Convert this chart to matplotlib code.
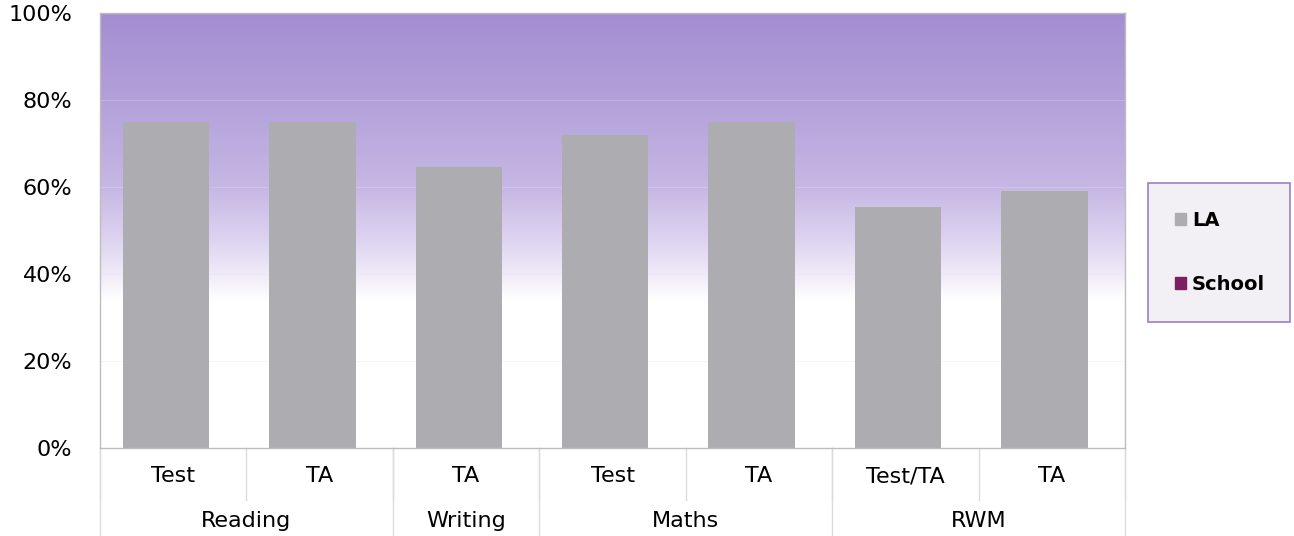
import numpy as np
import matplotlib
matplotlib.use('Agg')
import matplotlib.pyplot as plt
from matplotlib.colors import LinearSegmentedColormap
from matplotlib.patches import Rectangle, Patch
import matplotlib.transforms as mtransforms

# Data
groups = ['Reading', 'Writing', 'Maths', 'RWM']
group_sizes = [2, 1, 2, 2]
measures = ['Test', 'TA', 'TA', 'Test', 'TA', 'Test/TA', 'TA']
la = [75, 75, 64.5, 72, 75, 55.5, 59]
school = [0, 0, 0, 0, 0, 0, 0]
yticks = [0, 20, 40, 60, 80, 100]

fig = plt.figure(figsize=(12.94, 5.36), dpi=100)
ax = fig.add_axes([0.0773, 0.1642, 0.8694 - 0.0773, 0.9757 - 0.1642])

# Background gradient (purple at top fading to white)
bg = LinearSegmentedColormap.from_list('bg', [
    (0.0, '#ffffff'), (0.34, '#ffffff'), (0.40, '#efeaf8'),
    (0.48, '#ddd3f0'), (0.6, '#c6b7e4'), (0.8, '#b3a1da'), (1.0, '#a48dd2')])
grad = np.linspace(0, 1, 256).reshape(-1, 1)
ax.imshow(grad, cmap=bg, aspect='auto', extent=[0, 1, 0, 1],
          transform=ax.transAxes, origin='lower', zorder=0)

x = np.arange(len(measures))
width = 0.59
ax.bar(x - 0.05, la, width, color='#adacb0', zorder=2, label='LA')
ax.bar(x + 0.05, school, width, color='#7b1f60', zorder=2, label='School')

ax.set_xlim(-0.5, len(measures) - 0.5)
ax.set_ylim(0, 100)
ax.set_yticks(yticks)
ax.set_yticklabels([f'{v}%' for v in yticks], fontsize=16)
for v in yticks[1:-1]:
    ax.axhline(v, color='#e6def2', lw=0.6, alpha=0.35, zorder=1)

ax.set_xticks(x)
ax.set_xticklabels(measures, fontsize=16)
ax.tick_params(axis='both', length=0)
ax.tick_params(axis='x', pad=13)
ax.tick_params(axis='y', pad=20)
for s in ax.spines.values():
    s.set_color('#bdbdbd')
    s.set_linewidth(1)

# Multi-level category axis
trans = mtransforms.blended_transform_factory(ax.transData, ax.transAxes)
edges = np.concatenate([[0], np.cumsum(group_sizes)]) - 0.5
for b in np.arange(len(measures) + 1) - 0.5:
    ax.plot([b, b], [0, -0.12], color='#dcdcdc', lw=1, transform=trans, clip_on=False)
for b in edges:
    ax.plot([b, b], [0, -0.205], color='#dcdcdc', lw=1, transform=trans, clip_on=False)
for g, lo, hi in zip(groups, edges[:-1], edges[1:]):
    ax.text((lo + hi) / 2, -0.168, g, transform=trans, ha='center', va='center', fontsize=16)

# Legend
fig.patches.append(Rectangle((0.887, 0.399), 0.11, 0.26, transform=fig.transFigure,
                             facecolor='#f2f0f4', edgecolor='#9a80c9', lw=1.2))
handles = [Patch(color='#adacb0', label='LA'), Patch(color='#7b1f60', label='School')]
leg = fig.legend(handles=handles, loc='center', bbox_to_anchor=(0.943, 0.529),
                 frameon=False, prop={'weight': 'bold', 'size': 14},
                 handlelength=0.55, handleheight=0.55, handletextpad=0.3, labelspacing=2.3)

fig.savefig('out.png', dpi=100)
